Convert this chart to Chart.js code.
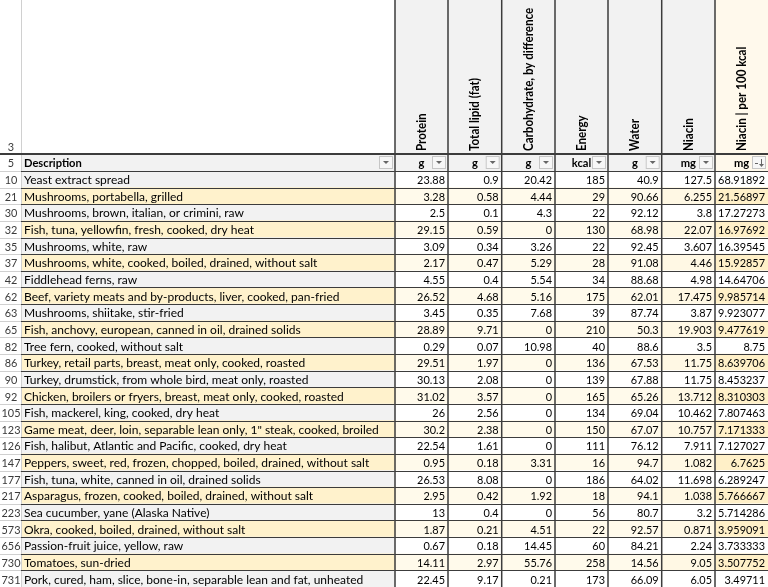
<!DOCTYPE html>
<html>
<head>
<meta charset="utf-8">
<script src="https://cdn.jsdelivr.net/npm/chart.js@4"></script>
<style>
  body { margin: 0; background: #fff; }
  canvas { display: block; }
</style>
</head>
<body>
<canvas id="sheet" width="768" height="587"></canvas>
<script>
// table data
const rowNums = [10, 21, 30, 32, 35, 37, 42, 62, 63, 65, 82, 86, 90, 92, 105, 123, 126, 147, 177, 217, 223, 573, 656, 730, 731];
const descriptions = [
  'Yeast extract spread',
  'Mushrooms, portabella, grilled',
  'Mushrooms, brown, italian, or crimini, raw',
  'Fish, tuna, yellowfin, fresh, cooked, dry heat',
  'Mushrooms, white, raw',
  'Mushrooms, white, cooked, boiled, drained, without salt',
  'Fiddlehead ferns, raw',
  'Beef, variety meats and by-products, liver, cooked, pan-fried',
  'Mushrooms, shiitake, stir-fried',
  'Fish, anchovy, european, canned in oil, drained solids',
  'Tree fern, cooked, without salt',
  'Turkey, retail parts, breast, meat only, cooked, roasted',
  'Turkey, drumstick, from whole bird, meat only, roasted',
  'Chicken, broilers or fryers, breast, meat only, cooked, roasted',
  'Fish, mackerel, king, cooked, dry heat',
  'Game meat, deer, loin, separable lean only, 1" steak, cooked, broiled',
  'Fish, halibut, Atlantic and Pacific, cooked, dry heat',
  'Peppers, sweet, red, frozen, chopped, boiled, drained, without salt',
  'Fish, tuna, white, canned in oil, drained solids',
  'Asparagus, frozen, cooked, boiled, drained, without salt',
  'Sea cucumber, yane (Alaska Native)',
  'Okra, cooked, boiled, drained, without salt',
  'Passion-fruit juice, yellow, raw',
  'Tomatoes, sun-dried',
  'Pork, cured, ham, slice, bone-in, separable lean and fat, unheated'
];
const protein = [23.88, 3.28, 2.5, 29.15, 3.09, 2.17, 4.55, 26.52, 3.45, 28.89, 0.29, 29.51, 30.13, 31.02, 26, 30.2, 22.54, 0.95, 26.53, 2.95, 13, 1.87, 0.67, 14.11, 22.45];
const fat = [0.9, 0.58, 0.1, 0.59, 0.34, 0.47, 0.4, 4.68, 0.35, 9.71, 0.07, 1.97, 2.08, 3.57, 2.56, 2.38, 1.61, 0.18, 8.08, 0.42, 0.4, 0.21, 0.18, 2.97, 9.17];
const carbs = [20.42, 4.44, 4.3, 0, 3.26, 5.29, 5.54, 5.16, 7.68, 0, 10.98, 0, 0, 0, 0, 0, 0, 3.31, 0, 1.92, 0, 4.51, 14.45, 55.76, 0.21];
const energy = [185, 29, 22, 130, 22, 28, 34, 175, 39, 210, 40, 136, 139, 165, 134, 150, 111, 16, 186, 18, 56, 22, 60, 258, 173];
const water = [40.9, 90.66, 92.12, 68.98, 92.45, 91.08, 88.68, 62.01, 87.74, 50.3, 88.6, 67.53, 67.88, 65.26, 69.04, 67.07, 76.12, 94.7, 64.02, 94.1, 80.7, 92.57, 84.21, 14.56, 66.09];
const niacin = [127.5, 6.255, 3.8, 22.07, 3.607, 4.46, 4.98, 17.475, 3.87, 19.903, 3.5, 11.75, 11.75, 13.712, 10.462, 10.757, 7.911, 1.082, 11.698, 1.038, 3.2, 0.871, 2.24, 9.05, 6.05];
const niacinPer100 = [68.91892, 21.56897, 17.27273, 16.97692, 16.39545, 15.92857, 14.64706, 9.985714, 9.923077, 9.477619, 8.75, 8.639706, 8.453237, 8.310303, 7.807463, 7.171333, 7.127027, 6.7625, 6.289247, 5.766667, 5.714286, 3.959091, 3.733333, 3.507752, 3.49711];
const headers = ['Protein', 'Total lipid (fat)', 'Carbohydrate, by difference', 'Energy', 'Water', 'Niacin', 'Niacin | per 100 kcal'];
const units = ['g', 'g', 'g', 'kcal', 'g', 'mg', 'mg'];

const numCols = [protein, fat, carbs, energy, water, niacin, niacinPer100];

// column edges on the x scale (row-number col, description, 7 numeric cols)
const edges = [0, 21, 395, 448, 501.7, 555, 608, 661.7, 715, 768];
const HEAD_BOTTOM = 154;
const UNIT_BOTTOM = 171;

const FONT = 'Lato, "Open Sans", sans-serif';
const DIGIT_SQUEEZE = 0.91;   // Lato digits are wider than the sheet's font

function cellColor(col, row) {
  const yellow = row % 2 === 1;
  if (col === 0) return '#ffffff';
  if (col === 1) return yellow ? '#fff2cc' : '#f2f2f2';
  if (col === 8) return yellow ? '#fff0c8' : '#ffffff';
  if (col === 7) return yellow ? '#fff8e4' : '#ffffff';
  return yellow ? '#fffaeb' : '#ffffff';
}

// one floating-bar dataset per column paints the cell backgrounds
const datasets = [];
for (let c = 0; c < edges.length - 1; c++) {
  datasets.push({
    data: rowNums.map(() => [edges[c], edges[c + 1]]),
    backgroundColor: rowNums.map((_, r) => cellColor(c, r)),
    borderWidth: 0,
    grouped: false,
    barPercentage: 1,
    categoryPercentage: 1
  });
}

function squeezed(ctx, text, x, y, sx) {
  ctx.save();
  ctx.translate(x, y);
  ctx.scale(sx, 1);
  ctx.fillText(text, 0, 0);
  ctx.restore();
}

function dropdown(ctx, right, sorted) {
  const x = right - 16, y = 156;
  ctx.fillStyle = '#f7f7f7';
  ctx.fillRect(x, y, 14, 13);
  ctx.strokeStyle = '#c6c6c6';
  ctx.lineWidth = 1;
  ctx.strokeRect(x + 0.5, y + 0.5, 13, 12);
  ctx.fillStyle = '#666';
  if (sorted) {
    ctx.fillRect(x + 3, y + 7, 3, 1);
    ctx.fillRect(x + 9, y + 3, 1, 7);
    ctx.beginPath();
    ctx.moveTo(x + 7, y + 8); ctx.lineTo(x + 12, y + 8); ctx.lineTo(x + 9.5, y + 11);
    ctx.fill();
  } else {
    ctx.beginPath();
    ctx.moveTo(x + 4, y + 5); ctx.lineTo(x + 10, y + 5); ctx.lineTo(x + 7, y + 8);
    ctx.fill();
  }
}

const sheetPlugin = {
  id: 'sheet',
  afterDatasetsDraw(chart) {
    const ctx = chart.ctx;
    const xs = chart.scales.x;
    const ys = chart.scales.y;
    const px = edges.map(e => xs.getPixelForValue(e));
    const band = (ys.bottom - ys.top) / rowNums.length;
    const rowTop = r => ys.getPixelForValue(r) - band / 2;
    ctx.save();

    // header rows backgrounds
    for (let c = 3; c < px.length; c++) {
      const i = c - 2;
      let bg = '#f2f2f2';
      if (i === 7) bg = '#fff9ec';
      if (i === 8) bg = '#fff0cc';
      ctx.fillStyle = bg;
      ctx.fillRect(px[c - 1], 0, px[c] - px[c - 1], UNIT_BOTTOM);
    }
    ctx.fillStyle = '#f2f2f2';
    ctx.fillRect(px[1], HEAD_BOTTOM, px[2] - px[1], UNIT_BOTTOM - HEAD_BOTTOM);

    // rotated column titles
    ctx.fillStyle = '#000';
    ctx.font = 'bold 13px ' + FONT;
    ctx.textAlign = 'left';
    ctx.textBaseline = 'middle';
    headers.forEach((h, i) => {
      const cx = (px[i + 2] + px[i + 3]) / 2;
      ctx.save();
      ctx.translate(cx, 151);
      ctx.rotate(-Math.PI / 2);
      ctx.scale(0.89, 1);
      ctx.fillText(h, 0, 0);
      ctx.restore();
    });

    // units row
    ctx.font = 'bold 12px ' + FONT;
    ctx.textAlign = 'center';
    units.forEach((u, i) => {
      const cx = (px[i + 2] + px[i + 3]) / 2;
      ctx.fillStyle = '#000';
      squeezed(ctx, u, cx, 163, 0.93);
      dropdown(ctx, px[i + 3], i === units.length - 1);
    });
    ctx.fillStyle = '#000';
    ctx.textAlign = 'left';
    squeezed(ctx, 'Description', px[1] + 3, 163, 0.93);
    dropdown(ctx, px[2], false);

    // light grid in the row-number column
    ctx.strokeStyle = '#d0d0d0';
    ctx.lineWidth = 1;
    ctx.beginPath();
    for (let r = 0; r <= rowNums.length; r++) {
      const y = Math.round(rowTop(r)) + 0.5;
      ctx.moveTo(0, y); ctx.lineTo(px[1], y);
    }
    ctx.moveTo(px[1] + 0.5, 0); ctx.lineTo(px[1] + 0.5, ys.bottom);
    ctx.stroke();

    // dark grid in the table
    ctx.strokeStyle = '#3c3c3c';
    ctx.beginPath();
    for (let r = 0; r <= rowNums.length; r++) {
      const y = Math.round(rowTop(r)) + 0.5;
      ctx.moveTo(px[1], y); ctx.lineTo(px[9], y);
    }
    ctx.stroke();
    ctx.lineWidth = 2;
    ctx.beginPath();
    ctx.moveTo(0, HEAD_BOTTOM); ctx.lineTo(px[9], HEAD_BOTTOM);
    ctx.stroke();
    ctx.lineWidth = 1.5;
    ctx.beginPath();
    for (let c = 2; c < px.length - 1; c++) {
      ctx.moveTo(px[c], 0); ctx.lineTo(px[c], ys.bottom);
    }
    ctx.stroke();

    // row numbers
    ctx.font = '12px ' + FONT;
    ctx.fillStyle = '#3a3a3a';
    ctx.textAlign = 'center';
    squeezed(ctx, '3', 11, 147, DIGIT_SQUEEZE);
    squeezed(ctx, '5', 11, 163, DIGIT_SQUEEZE);
    rowNums.forEach((n, r) => {
      squeezed(ctx, String(n), 11, rowTop(r) + band / 2 + 1, DIGIT_SQUEEZE);
    });

    // cells
    ctx.fillStyle = '#000';
    ctx.textAlign = 'left';
    descriptions.forEach((d, r) => {
      ctx.fillText(d, px[1] + 3, rowTop(r) + band / 2 + 1);
    });
    ctx.textAlign = 'right';
    numCols.forEach((col, c) => {
      col.forEach((v, r) => {
        squeezed(ctx, String(v), px[c + 3] - 3, rowTop(r) + band / 2 + 1, DIGIT_SQUEEZE);
      });
    });
    ctx.restore();
  }
};

new Chart(document.getElementById('sheet'), {
  type: 'bar',
  data: { labels: rowNums.map(String), datasets: datasets },
  options: {
    indexAxis: 'y',
    responsive: false,
    animation: false,
    events: [],
    layout: { padding: { top: UNIT_BOTTOM, left: 0, right: 0, bottom: 0 } },
    scales: {
      x: { type: 'linear', min: 0, max: 768, display: false },
      y: { type: 'category', display: false, offset: true }
    },
    plugins: { legend: { display: false }, tooltip: { enabled: false } }
  },
  plugins: [sheetPlugin]
});
</script>
</body>
</html>
